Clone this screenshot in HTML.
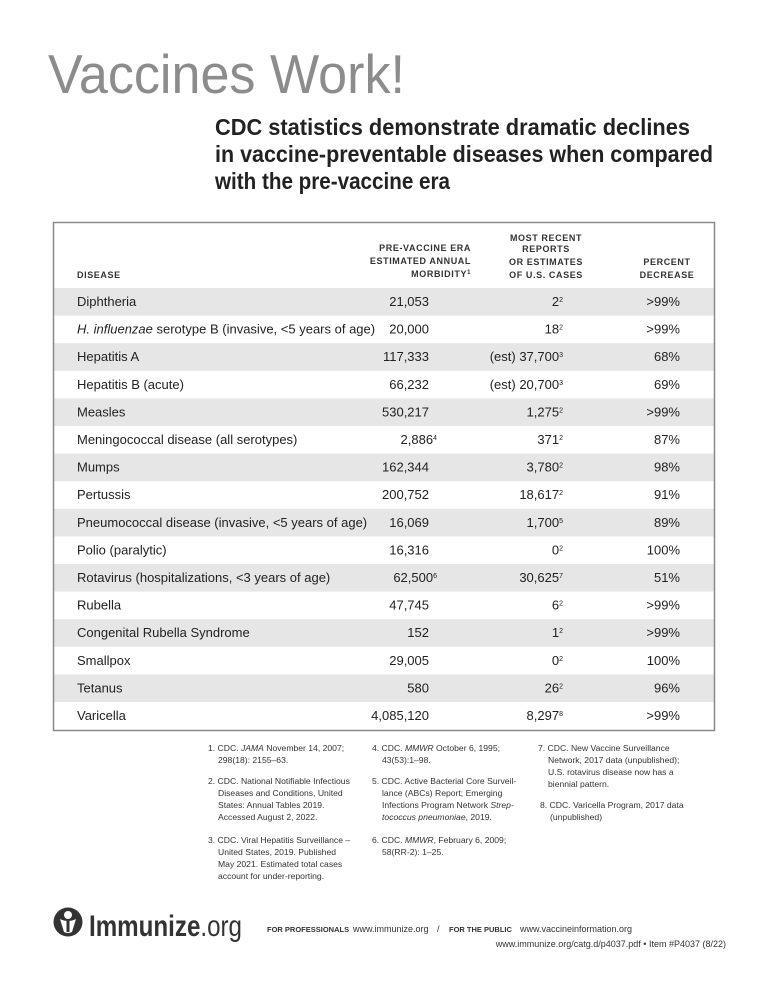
<!DOCTYPE html>
<html><head><meta charset="utf-8"><style>
html,body{margin:0;padding:0;background:#fff;}
svg{display:block;}
text{font-family:"Liberation Sans",sans-serif;}
</style></head><body>
<svg width="768" height="994" viewBox="0 0 768 994" xmlns="http://www.w3.org/2000/svg">
<rect width="768" height="994" fill="#fff"/>
<text x="48" y="93" font-size="55" fill="#8c8c8c" textLength="357" lengthAdjust="spacingAndGlyphs">Vaccines Work!</text>
<g font-size="23" font-weight="bold" fill="#222">
<text x="215" y="135" textLength="475" lengthAdjust="spacingAndGlyphs">CDC statistics demonstrate dramatic declines</text>
<text x="215" y="162" textLength="498" lengthAdjust="spacingAndGlyphs">in vaccine-preventable diseases when compared</text>
<text x="215" y="189" textLength="235" lengthAdjust="spacingAndGlyphs">with the pre-vaccine era</text>
</g>
<g fill="#e6e6e6">
<rect x="54" y="288" width="660" height="27.6"/>
<rect x="54" y="343.2" width="660" height="27.6"/>
<rect x="54" y="398.4" width="660" height="27.6"/>
<rect x="54" y="453.6" width="660" height="27.6"/>
<rect x="54" y="508.8" width="660" height="27.6"/>
<rect x="54" y="564" width="660" height="27.6"/>
<rect x="54" y="619.2" width="660" height="27.6"/>
<rect x="54" y="674.4" width="660" height="27.6"/>
</g>
<rect x="53.5" y="222.5" width="661" height="508" fill="none" stroke="#8a8a8a" stroke-width="1.5"/>
<g font-size="9" font-weight="bold" fill="#333" letter-spacing="0.6">
<text x="77" y="278">DISEASE</text>
<text x="471" y="251" text-anchor="end">PRE-VACCINE ERA</text>
<text x="471" y="264" text-anchor="end">ESTIMATED ANNUAL</text>
<text x="471" y="277" text-anchor="end">MORBIDITY<tspan font-size="6" dy="-3">1</tspan></text>
<text x="546" y="241" text-anchor="middle">MOST RECENT</text>
<text x="546" y="252" text-anchor="middle">REPORTS</text>
<text x="546" y="265" text-anchor="middle">OR ESTIMATES</text>
<text x="546" y="278" text-anchor="middle">OF U.S. CASES</text>
<text x="667" y="265" text-anchor="middle">PERCENT</text>
<text x="667" y="278" text-anchor="middle">DECREASE</text>
</g>
<g font-size="13" fill="#222">
<text x="77" y="306">Diphtheria</text>
<text x="77" y="333.6"><tspan font-style="italic">H. influenzae</tspan> serotype B (invasive, &lt;5 years of age)</text>
<text x="77" y="361.2">Hepatitis A</text>
<text x="77" y="388.8">Hepatitis B (acute)</text>
<text x="77" y="416.4">Measles</text>
<text x="77" y="444">Meningococcal disease (all serotypes)</text>
<text x="77" y="471.6">Mumps</text>
<text x="77" y="499.2">Pertussis</text>
<text x="77" y="526.8">Pneumococcal disease (invasive, &lt;5 years of age)</text>
<text x="77" y="554.4">Polio (paralytic)</text>
<text x="77" y="582">Rotavirus (hospitalizations, &lt;3 years of age)</text>
<text x="77" y="609.6">Rubella</text>
<text x="77" y="637.2">Congenital Rubella Syndrome</text>
<text x="77" y="664.8">Smallpox</text>
<text x="77" y="692.4">Tetanus</text>
<text x="77" y="720">Varicella</text>
</g>
<g font-size="13" fill="#222" text-anchor="end">
<text x="429" y="306">21,053</text>
<text x="429" y="333.6">20,000</text>
<text x="429" y="361.2">117,333</text>
<text x="429" y="388.8">66,232</text>
<text x="429" y="416.4">530,217</text>
<text x="437" y="444">2,886<tspan font-size="7" dy="-4">4</tspan></text>
<text x="429" y="471.6">162,344</text>
<text x="429" y="499.2">200,752</text>
<text x="429" y="526.8">16,069</text>
<text x="429" y="554.4">16,316</text>
<text x="437" y="582">62,500<tspan font-size="7" dy="-4">6</tspan></text>
<text x="429" y="609.6">47,745</text>
<text x="429" y="637.2">152</text>
<text x="429" y="664.8">29,005</text>
<text x="429" y="692.4">580</text>
<text x="429" y="720">4,085,120</text>
</g>
<g font-size="13" fill="#222" text-anchor="end">
<text x="563" y="306">2<tspan font-size="7" dy="-4">2</tspan></text>
<text x="563" y="333.6">18<tspan font-size="7" dy="-4">2</tspan></text>
<text x="563" y="361.2">(est) 37,700<tspan font-size="7" dy="-4">3</tspan></text>
<text x="563" y="388.8">(est) 20,700<tspan font-size="7" dy="-4">3</tspan></text>
<text x="563" y="416.4">1,275<tspan font-size="7" dy="-4">2</tspan></text>
<text x="563" y="444">371<tspan font-size="7" dy="-4">2</tspan></text>
<text x="563" y="471.6">3,780<tspan font-size="7" dy="-4">2</tspan></text>
<text x="563" y="499.2">18,617<tspan font-size="7" dy="-4">2</tspan></text>
<text x="563" y="526.8">1,700<tspan font-size="7" dy="-4">5</tspan></text>
<text x="563" y="554.4">0<tspan font-size="7" dy="-4">2</tspan></text>
<text x="563" y="582">30,625<tspan font-size="7" dy="-4">7</tspan></text>
<text x="563" y="609.6">6<tspan font-size="7" dy="-4">2</tspan></text>
<text x="563" y="637.2">1<tspan font-size="7" dy="-4">2</tspan></text>
<text x="563" y="664.8">0<tspan font-size="7" dy="-4">2</tspan></text>
<text x="563" y="692.4">26<tspan font-size="7" dy="-4">2</tspan></text>
<text x="563" y="720">8,297<tspan font-size="7" dy="-4">8</tspan></text>
</g>
<g font-size="13" fill="#222" text-anchor="end">
<text x="680" y="306">&gt;99%</text>
<text x="680" y="333.6">&gt;99%</text>
<text x="680" y="361.2">68%</text>
<text x="680" y="388.8">69%</text>
<text x="680" y="416.4">&gt;99%</text>
<text x="680" y="444">87%</text>
<text x="680" y="471.6">98%</text>
<text x="680" y="499.2">91%</text>
<text x="680" y="526.8">89%</text>
<text x="680" y="554.4">100%</text>
<text x="680" y="582">51%</text>
<text x="680" y="609.6">&gt;99%</text>
<text x="680" y="637.2">&gt;99%</text>
<text x="680" y="664.8">100%</text>
<text x="680" y="692.4">96%</text>
<text x="680" y="720">&gt;99%</text>
</g>
<g font-size="8.6" fill="#333">
<text x="208" y="751">1. CDC. <tspan font-style="italic">JAMA</tspan> November 14, 2007;</text>
<text x="218" y="763">298(18): 2155–63.</text>
<text x="208" y="784">2. CDC. National Notifiable Infectious</text>
<text x="218" y="796">Diseases and Conditions, United</text>
<text x="218" y="808">States: Annual Tables 2019.</text>
<text x="218" y="820">Accessed August 2, 2022.</text>
<text x="208" y="843">3. CDC. Viral Hepatitis Surveillance –</text>
<text x="218" y="855">United States, 2019. Published</text>
<text x="218" y="867">May 2021. Estimated total cases</text>
<text x="218" y="879">account for under-reporting.</text>

<text x="372" y="751">4. CDC. <tspan font-style="italic">MMWR</tspan> October 6, 1995;</text>
<text x="382" y="763">43(53):1–98.</text>
<text x="372" y="784">5. CDC. Active Bacterial Core Surveil-</text>
<text x="382" y="796">lance (ABCs) Report; Emerging</text>
<text x="382" y="808">Infections Program Network <tspan font-style="italic">Strep-</tspan></text>
<text x="382" y="820" font-style="italic">tococcus pneumoniae<tspan font-style="normal">, 2019.</tspan></text>
<text x="372" y="843">6. CDC. <tspan font-style="italic">MMWR</tspan>, February 6, 2009;</text>
<text x="382" y="855">58(RR-2): 1–25.</text>

<text x="538" y="751">7. CDC. New Vaccine Surveillance</text>
<text x="548" y="763">Network, 2017 data (unpublished);</text>
<text x="548" y="775">U.S. rotavirus disease now has a</text>
<text x="548" y="787">biennial pattern.</text>
<text x="540" y="808">8. CDC. Varicella Program, 2017 data</text>
<text x="550" y="820">(unpublished)</text>
</g>
<circle cx="68" cy="922" r="14.5" fill="#333"/>
<circle cx="68" cy="915" r="4" fill="#fff"/>
<path d="M60 919 Q68 923 76 919 L72 932 Q68 934 64 932 Z" fill="#fff"/>
<rect x="66.5" y="921" width="3" height="11" fill="#333"/>
<text x="89" y="936" font-size="30" fill="#333" textLength="153" lengthAdjust="spacingAndGlyphs"><tspan font-weight="bold">Immunize</tspan>.org</text>
<text x="267" y="932" font-size="7.5" font-weight="bold" fill="#333">FOR PROFESSIONALS</text>
<text x="353" y="932" font-size="9" fill="#333">www.immunize.org</text>
<text x="437" y="932" font-size="9" fill="#333">/</text>
<text x="449" y="932" font-size="7.5" font-weight="bold" fill="#333">FOR THE PUBLIC</text>
<text x="520" y="932" font-size="9" fill="#333">www.vaccineinformation.org</text>
<text x="726" y="947" font-size="9" fill="#333" text-anchor="end">www.immunize.org/catg.d/p4037.pdf • Item #P4037 (8/22)</text>
</svg>
</body></html>
